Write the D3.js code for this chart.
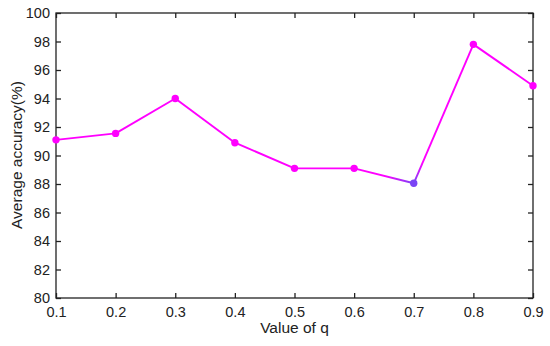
<!DOCTYPE html>
<html><head><meta charset="utf-8">
<script src="https://cdn.jsdelivr.net/npm/d3@7/dist/d3.min.js"></script>
<style>body{margin:0;background:#fff}svg{display:block}text{font-family:"Liberation Sans",Arial,sans-serif;fill:#222}</style>
</head><body><svg id="c" width="550" height="346"></svg>
<script>
const qValues = [0.1,0.2,0.3,0.4,0.5,0.6,0.7,0.8,0.9];
const accuracy = [91.1,91.55,94.0,90.9,89.1,89.1,88.05,97.8,94.9];
const xTicks = [0.1,0.2,0.3,0.4,0.5,0.6,0.7,0.8,0.9];
const yTicks = [80,82,84,86,88,90,92,94,96,98,100];
const pointColors = ["#ff00ff","#ff00ff","#ff00ff","#ff00ff","#ff00ff","#ff00ff","#7a44f5","#ff00ff","#ff00ff"];

const svg = d3.select("#c");
const m = {l:56,t:13,r:533,b:298};
const x = d3.scaleLinear().domain([0.1,0.9]).range([m.l,m.r]);
const y = d3.scaleLinear().domain([80,100]).range([m.b,m.t]);

svg.append("rect").attr("x",m.l).attr("y",m.t).attr("width",m.r-m.l).attr("height",m.b-m.t)
  .attr("fill","none").attr("stroke","#222").attr("stroke-width",1.3);

const fmtX = d3.format(".1f");
const gb = svg.append("g").attr("transform",`translate(0,${m.b})`)
  .call(d3.axisBottom(x).tickValues(xTicks).tickFormat(fmtX).tickSizeInner(-5).tickSizeOuter(0).tickPadding(9));
const gt = svg.append("g").attr("transform",`translate(0,${m.t})`)
  .call(d3.axisTop(x).tickValues(xTicks).tickFormat("").tickSizeInner(-5).tickSizeOuter(0));
const gl = svg.append("g").attr("transform",`translate(${m.l},0)`)
  .call(d3.axisLeft(y).tickValues(yTicks).tickSizeInner(-5).tickSizeOuter(0).tickPadding(6));
const gr = svg.append("g").attr("transform",`translate(${m.r},0)`)
  .call(d3.axisRight(y).tickValues(yTicks).tickFormat("").tickSizeInner(-5).tickSizeOuter(0));
[gb,gt,gl,gr].forEach(g=>{
  g.select(".domain").remove();
  g.selectAll("line").attr("stroke","#222").attr("stroke-width",1.3);
  g.selectAll("text").attr("font-size",14.5).attr("fill","#222").attr("font-family","Liberation Sans, Arial, sans-serif");
});

const defs = svg.append("defs");
const pts = qValues.map((q,i)=>({x:x(q),y:y(accuracy[i]),c:pointColors[i]}));
for(let i=0;i<pts.length-1;i++){
  const a=pts[i],b=pts[i+1];
  const gid="g"+i;
  const lg=defs.append("linearGradient").attr("id",gid).attr("gradientUnits","userSpaceOnUse")
    .attr("x1",a.x).attr("y1",a.y).attr("x2",b.x).attr("y2",b.y);
  if(a.c===b.c){
    lg.append("stop").attr("offset","0").attr("stop-color",a.c);
    lg.append("stop").attr("offset","1").attr("stop-color",b.c);
  } else if(a.c==="#ff00ff"){
    lg.append("stop").attr("offset","0").attr("stop-color",a.c);
    lg.append("stop").attr("offset","0.5").attr("stop-color",a.c);
    lg.append("stop").attr("offset","1").attr("stop-color",b.c);
  } else {
    lg.append("stop").attr("offset","0").attr("stop-color",a.c);
    lg.append("stop").attr("offset","0.15").attr("stop-color",b.c);
    lg.append("stop").attr("offset","1").attr("stop-color",b.c);
  }
  svg.append("line").attr("x1",a.x).attr("y1",a.y).attr("x2",b.x).attr("y2",b.y)
    .attr("stroke",`url(#${gid})`).attr("stroke-width",1.9);
}
svg.append("g").selectAll("circle").data(pts).join("circle")
  .attr("cx",d=>d.x).attr("cy",d=>d.y).attr("r",3.7).attr("fill",d=>d.c);

svg.append("text").attr("x",294.5).attr("y",333).attr("text-anchor","middle")
  .attr("font-size",15.5).text("Value of q");
svg.append("text").attr("transform",`translate(22,155) rotate(-90)`).attr("text-anchor","middle")
  .attr("font-size",15.5).text("Average accuracy(%)");
</script></body></html>
